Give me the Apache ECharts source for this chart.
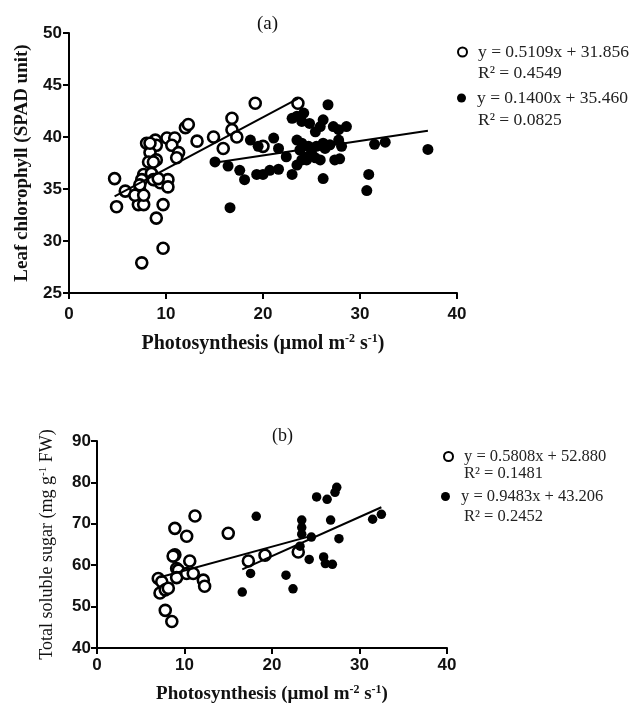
<!DOCTYPE html>
<html>
<head>
<meta charset="utf-8">
<script src="https://cdn.jsdelivr.net/npm/echarts@6/dist/echarts.min.js"></script>
<style>
  html, body { margin: 0; padding: 0; background: #fff; }
  #main { width: 638px; height: 705px; }
</style>
</head>
<body>
<div id="main"></div>
<script>
// (a) leaf chlorophyll vs photosynthesis
const openA = [
  [4.7, 36.0], [4.9, 33.3], [5.8, 34.8], [7.3, 34.9], [7.15, 33.5], [7.7, 33.5],
  [7.5, 27.9], [9.7, 29.3], [9.0, 32.2], [9.7, 33.5], [8.0, 39.4], [8.9, 39.7],
  [9.0, 39.2], [8.35, 38.5], [8.2, 37.6], [9.0, 37.8], [7.7, 36.4], [8.5, 36.5],
  [8.9, 35.9], [7.5, 35.9], [9.4, 35.6], [10.2, 35.9], [10.2, 35.2], [10.1, 39.9],
  [10.9, 39.9], [10.6, 39.2], [11.3, 38.5], [11.1, 38.0], [12.0, 40.9], [12.3, 41.2],
  [13.2, 39.6], [14.9, 40.0], [15.9, 38.9], [16.8, 41.8], [16.8, 40.7], [17.3, 40.0],
  [19.2, 43.25], [23.6, 43.25], [20.0, 39.1], [6.8, 34.4], [7.3, 35.4], [7.7, 34.4],
  [8.7, 35.9], [9.2, 36.0], [8.7, 37.6], [8.35, 39.4]
];
const filledA = [
  [15.05, 37.6], [16.4, 37.2], [17.6, 36.8], [18.1, 35.9], [16.6, 33.2], [18.7, 39.7],
  [19.35, 36.4], [19.5, 39.1], [20.0, 36.4], [20.7, 36.8], [21.6, 36.9], [23.0, 36.4],
  [21.1, 39.9], [21.6, 38.9], [22.4, 38.1], [23.5, 37.3], [24.0, 37.8], [23.0, 41.8],
  [23.5, 42.0], [24.0, 41.5], [24.2, 42.3], [23.5, 39.7], [24.0, 39.4], [24.7, 39.1],
  [24.8, 41.3], [25.4, 40.5], [25.9, 41.0], [26.2, 41.65], [26.7, 43.1], [25.0, 38.45],
  [24.5, 37.8], [25.4, 38.0], [25.9, 37.8], [25.5, 39.1], [26.2, 39.4], [26.9, 39.25],
  [26.4, 38.9], [27.25, 41.0], [27.8, 40.7], [28.6, 41.0], [27.8, 39.7], [28.1, 39.1],
  [27.4, 37.8], [27.9, 37.9], [26.2, 36.0], [30.9, 36.4], [30.7, 34.85], [31.5, 39.3],
  [32.6, 39.5], [37.0, 38.8], [24.5, 38.1], [23.8, 38.75]
];
// fitted lines, end points
const fitOpenA = [[4.7, 34.3], [23.6, 43.7]];
const fitFilledA = [[15.5, 37.6], [37.0, 40.6]];
const eqOpenA = "y = 0.5109x + 31.856";
const r2OpenA = "R² = 0.4549";
const eqFilledA = "y = 0.1400x + 35.460";
const r2FilledA = "R² = 0.0825";

// (b) total soluble sugar vs photosynthesis
const openB = [
  [11.2, 71.9], [8.9, 68.9], [10.25, 67.0], [15.0, 67.7], [8.9, 62.5], [8.7, 62.2],
  [10.6, 61.0], [9.1, 59.2], [9.3, 58.8], [9.1, 57.0], [10.25, 58.0], [11.0, 58.0],
  [12.15, 56.4], [12.3, 54.9], [7.0, 56.8], [7.4, 56.0], [7.2, 53.3], [7.8, 54.05],
  [8.15, 54.45], [7.8, 49.1], [8.55, 46.4], [17.3, 61.0], [19.2, 62.4], [23.0, 63.2]
];
const filledB = [
  [18.2, 71.8], [17.55, 58.0], [16.6, 53.5], [21.6, 57.6], [22.4, 54.3], [23.4, 70.9],
  [23.4, 69.1], [23.4, 67.5], [23.2, 64.6], [24.5, 66.8], [24.25, 61.4], [25.1, 76.5],
  [26.3, 75.9], [27.2, 77.6], [27.4, 78.8], [26.7, 70.9], [27.65, 66.4], [25.9, 62.0],
  [26.1, 60.4], [26.9, 60.2], [31.5, 71.1], [32.5, 72.3]
];
const fitOpenB = [[7.2, 57.1], [24.2, 66.9]];
const fitFilledB = [[16.6, 59.0], [32.5, 74.0]];
const eqOpenB = "y = 0.5808x + 52.880";
const r2OpenB = "R² = 0.1481";
const eqFilledB = "y = 0.9483x + 43.206";
const r2FilledB = "R² = 0.2452";

const xTicks = [0, 10, 20, 30, 40];

const chart = echarts.init(document.getElementById("main"));

const serif = "'Liberation Serif', 'Times New Roman', serif";
const sans = "'Liberation Sans', Arial, sans-serif";

const axisBase = {
  axisLine: { show: true, onZero: false, lineStyle: { color: "#000", width: 2 } },
  axisTick: { show: true, length: 6, lineStyle: { color: "#000", width: 2 } },
  splitLine: { show: false },
  nameLocation: "middle",
};

const supRich = (size) => ({
  b: { fontFamily: serif, fontWeight: "bold", fontSize: size, color: "#111" },
  s: { fontFamily: serif, fontWeight: "bold", fontSize: Math.round(size * 0.62), color: "#111", padding: [0, 0, 9, 0] },
  r: { fontFamily: serif, fontSize: size, color: "#111" },
  rs: { fontFamily: serif, fontSize: Math.round(size * 0.62), color: "#111", padding: [0, 0, 8, 0] },
});

const openStyle = { color: "#fff", borderColor: "#000", borderWidth: 2.6, opacity: 1 };
const filledStyle = { color: "#000", opacity: 1 };
const lineStyle = { color: "#000", width: 2 };

const legendText = { fontFamily: serif, fontSize: 17.5, color: "#222", padding: [0, 0, 0, 6] };
const legendBase = { icon: "circle", itemWidth: 9, itemHeight: 9, padding: 0, selectedMode: false };

const option = {
  animation: false,
  title: [
    { text: "(a)", left: 252, top: 10, textStyle: { fontFamily: serif, fontWeight: "normal", fontSize: 19, color: "#111" } },
    { text: "(b)", left: 267, top: 422, textStyle: { fontFamily: serif, fontWeight: "normal", fontSize: 18, color: "#111" } },
  ],
  legend: [
    { ...legendBase, data: [{ name: eqOpenA, itemStyle: { color: "#fff", borderColor: "#000", borderWidth: 2 } }],
      left: 457, top: 43, textStyle: legendText },
    { ...legendBase, data: [{ name: eqFilledA, itemStyle: { color: "#000" } }],
      left: 457, top: 89, textStyle: legendText },
    { ...legendBase, data: [{ name: eqOpenB, itemStyle: { color: "#fff", borderColor: "#000", borderWidth: 2 } }],
      left: 443, top: 448, textStyle: { ...legendText, fontSize: 16.5 } },
    { ...legendBase, data: [{ name: eqFilledB, itemStyle: { color: "#000" } }],
      left: 441, top: 488, textStyle: { ...legendText, fontSize: 16.5 } },
  ],
  graphic: [
    { type: "text", left: 478, top: 64, style: { text: r2OpenA, font: "17.5px " + serif, fill: "#222" } },
    { type: "text", left: 478, top: 111, style: { text: r2FilledA, font: "17.5px " + serif, fill: "#222" } },
    { type: "text", left: 464, top: 465, style: { text: r2OpenB, font: "16.5px " + serif, fill: "#222" } },
    { type: "text", left: 464, top: 508, style: { text: r2FilledB, font: "16.5px " + serif, fill: "#222" } },
  ],
  grid: [
    { left: 69, top: 33, width: 388, height: 260 },
    { left: 97, top: 441, width: 350, height: 210 },
  ],
  xAxis: [
    {
      ...axisBase, gridIndex: 0, type: "value", min: 0, max: 40, interval: 10,
      axisLabel: { color: "#111", fontFamily: sans, fontWeight: "bold", fontSize: 17, margin: 13,
        formatter: (v) => (xTicks.includes(v) ? String(v) : "") },
      name: "{b|Photosynthesis (μmol m}{s|-2}{b| s}{s|-1}{b|)}", nameGap: 40,
      nameTextStyle: { rich: supRich(20) },
    },
    {
      ...axisBase, gridIndex: 1, type: "value", min: 0, max: 40, interval: 10,
      axisLabel: { color: "#111", fontFamily: sans, fontWeight: "bold", fontSize: 17, margin: 9,
        formatter: (v) => (xTicks.includes(v) ? String(v) : "") },
      name: "{b|Photosynthesis (μmol m}{s|-2}{b| s}{s|-1}{b|)}", nameGap: 36,
      nameTextStyle: { rich: supRich(19) },
    },
  ],
  yAxis: [
    {
      ...axisBase, gridIndex: 0, type: "value", min: 25, max: 50, interval: 5,
      axisLabel: { color: "#111", fontFamily: sans, fontWeight: "bold", fontSize: 17, margin: 7 },
      name: "Leaf chlorophyll (SPAD unit)", nameGap: 37,
      nameTextStyle: { fontFamily: serif, fontWeight: "bold", fontSize: 19, color: "#111" },
    },
    {
      ...axisBase, gridIndex: 1, type: "value", min: 40, max: 90, interval: 10,
      axisLabel: { color: "#111", fontFamily: sans, fontWeight: "bold", fontSize: 17, margin: 6 },
      name: "{r|Total soluble sugar (mg g}{rs|-1}{r| FW)}", nameGap: 40,
      nameTextStyle: { rich: supRich(18) },
    },
  ],
  series: [
    { name: eqOpenA, type: "scatter", xAxisIndex: 0, yAxisIndex: 0, data: openA,
      symbol: "circle", symbolSize: 11, itemStyle: openStyle },
    { name: eqFilledA, type: "scatter", xAxisIndex: 0, yAxisIndex: 0, data: filledA,
      symbol: "circle", symbolSize: 11, itemStyle: filledStyle },
    { type: "line", xAxisIndex: 0, yAxisIndex: 0, data: fitOpenA, symbol: "none", lineStyle, z: 5 },
    { type: "line", xAxisIndex: 0, yAxisIndex: 0, data: fitFilledA, symbol: "none", lineStyle, z: 5 },

    { name: eqOpenB, type: "scatter", xAxisIndex: 1, yAxisIndex: 1, data: openB,
      symbol: "circle", symbolSize: 11, itemStyle: openStyle },
    { name: eqFilledB, type: "scatter", xAxisIndex: 1, yAxisIndex: 1, data: filledB,
      symbol: "circle", symbolSize: 9.5, itemStyle: filledStyle },
    { type: "line", xAxisIndex: 1, yAxisIndex: 1, data: fitOpenB, symbol: "none", lineStyle, z: 5 },
    { type: "line", xAxisIndex: 1, yAxisIndex: 1, data: fitFilledB, symbol: "none", lineStyle, z: 5 },
  ],
};

chart.setOption(option);
</script>
</body>
</html>
